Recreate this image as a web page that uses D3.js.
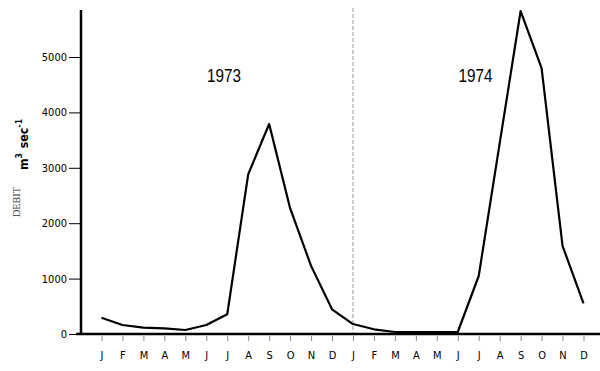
<!DOCTYPE html>
<html>
<head>
<meta charset="utf-8">
<script src="https://cdn.jsdelivr.net/npm/d3@7"></script>
<style>
  body { margin: 0; background: #fff; }
  svg { display: block; }
  .tick-label { font-family: "DejaVu Sans Condensed", "DejaVu Sans", sans-serif; font-size: 11px; }
  .month { font-family: "DejaVu Sans Condensed", "DejaVu Sans", sans-serif; font-size: 11px; }
  .year { font-family: "Liberation Sans", Arial, sans-serif; font-size: 18px; }
</style>
</head>
<body>
<div class="chart"></div>
<script>
// month labels, two years side by side
var months = ["J", "F", "M", "A", "M", "J", "J", "A", "S", "O", "N", "D"];
var years = ["1973", "1974"];
// monthly discharge, m3/sec
var flow1973 = [294, 162, 114, 103, 72, 162, 355, 2880, 3790, 2270, 1230, 446];
var flow1974 = [180, 85, 36, 36, 36, 36, 1047, 3440, 5830, 4800, 1590, 555];
var yTicks = [0, 1000, 2000, 3000, 4000, 5000];

var svgWidth = 600;
var svgHeight = 371;

var svg = d3.select(".chart")
  .append("svg")
  .attr("width", svgWidth)
  .attr("height", svgHeight);

var allFlow = flow1973.concat(flow1974);
var allMonths = months.concat(months);

var xScale = d3.scaleLinear().domain([0, 23]).range([101.5, 583.5]);
var yScale = d3.scaleLinear().domain([0, 5000]).range([334, 57]);

// vertical dashed separator at January 1974
svg.append("line")
  .attr("x1", xScale(12)).attr("x2", xScale(12))
  .attr("y1", 8).attr("y2", yScale(0))
  .attr("stroke", "#999")
  .attr("stroke-width", 1)
  .attr("stroke-dasharray", "4,2");

// y axis
var leftAxis = d3.axisLeft(yScale).tickValues(yTicks).tickSize(12).tickPadding(2).tickFormat(d3.format("d"));
var yAxis = svg.append("g")
  .attr("transform", "translate(81,0)")
  .call(leftAxis);
yAxis.select(".domain").remove();
yAxis.selectAll(".tick line").attr("stroke", "#000").attr("stroke-width", 1);
yAxis.selectAll(".tick text").attr("class", "tick-label").attr("fill", "#000");

svg.append("line")
  .attr("x1", 81).attr("x2", 81)
  .attr("y1", 10).attr("y2", yScale(0) + 1)
  .attr("stroke", "#000").attr("stroke-width", 2.5);

// x axis
var bottomAxis = d3.axisBottom(xScale)
  .tickValues(d3.range(24))
  .tickSize(5)
  .tickPadding(10)
  .tickFormat(function(i) { return allMonths[i]; });
var xAxis = svg.append("g")
  .attr("transform", "translate(0," + (yScale(0) + 2) + ")")
  .call(bottomAxis);
xAxis.select(".domain").remove();
xAxis.selectAll(".tick line").attr("stroke", "#666").attr("stroke-width", 0.8);
xAxis.selectAll(".tick text").attr("class", "month").attr("fill", "#000");

svg.append("line")
  .attr("x1", 76).attr("x2", 600)
  .attr("y1", yScale(0)).attr("y2", yScale(0))
  .attr("stroke", "#000").attr("stroke-width", 2.5);

// discharge line
var line = d3.line()
  .x(function(d, i) { return xScale(i); })
  .y(function(d) { return yScale(d); });

svg.append("path")
  .datum(allFlow)
  .attr("d", line)
  .attr("fill", "none")
  .attr("stroke", "#000")
  .attr("stroke-width", 2.2)
  .attr("stroke-linejoin", "round");

// year labels
svg.selectAll(".year")
  .data(years)
  .enter().append("text")
  .attr("class", "year")
  .attr("x", function(d, i) { return xScale(i * 12 + 5.85) - 17; })
  .attr("y", 82)
  .attr("textLength", 34)
  .attr("lengthAdjust", "spacingAndGlyphs")
  .text(function(d) { return d; });

// y axis label
svg.append("text")
  .attr("transform", "translate(20,217) rotate(-90)")
  .attr("font-family", "Liberation Serif, DejaVu Serif, serif")
  .attr("font-size", 10)
  .attr("fill", "#333")
  .attr("textLength", 30)
  .attr("lengthAdjust", "spacingAndGlyphs")
  .text("DEBIT");

var unit = svg.append("text")
  .attr("transform", "translate(28,170) rotate(-90)")
  .attr("font-family", "DejaVu Sans Condensed, DejaVu Sans, sans-serif")
  .attr("font-weight", "bold")
  .attr("font-size", 13)
  .attr("textLength", 51)
  .attr("lengthAdjust", "spacingAndGlyphs");
unit.append("tspan").text("m");
unit.append("tspan").attr("dy", -6).attr("font-size", 9).text("3");
unit.append("tspan").attr("dy", 6).attr("dx", 5).text("sec");
unit.append("tspan").attr("dy", -6).attr("font-size", 9).text("-1");
</script>
</body>
</html>
